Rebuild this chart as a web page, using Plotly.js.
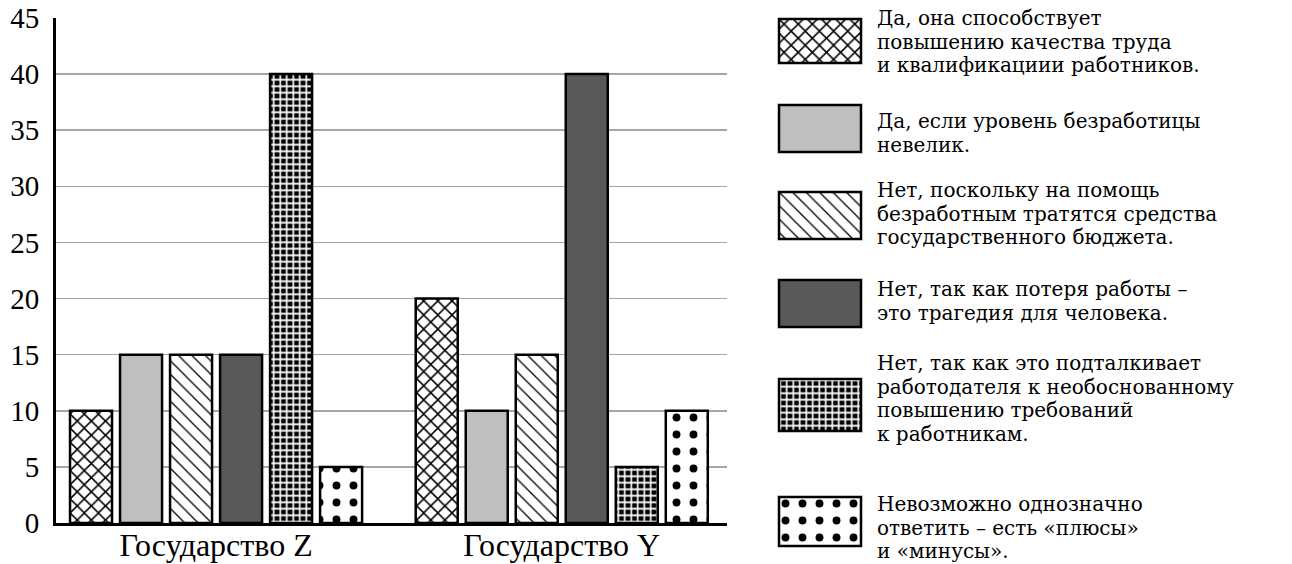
<!DOCTYPE html>
<html>
<head>
<meta charset="utf-8">
<script src="https://cdn.plot.ly/plotly-3.0.1.min.js"></script>
</head>
<body style="margin:0">
<div id="chart" style="width:1292px;height:564px"></div>
<script>
// ---- data ----
const categories = ['Государство Z', 'Государство Y'];
const stateZ = [10, 15, 15, 15, 40, 5];
const stateY = [20, 10, 15, 40, 5, 10];
const yTickValues = [0, 5, 10, 15, 20, 25, 30, 35, 40, 45];
const answerLines = [
  ['Да, она способствует', 'повышению качества труда', 'и квалификациии работников.'],
  ['Да, если уровень безработицы', 'невелик.'],
  ['Нет, поскольку на помощь', 'безработным тратятся средства', 'государственного бюджета.'],
  ['Нет, так как потеря работы –', 'это трагедия для человека.'],
  ['Нет, так как это подталкивает', 'работодателя к необоснованному', 'повышению требований', 'к работникам.'],
  ['Невозможно однозначно', 'ответить – есть «плюсы»', 'и «минусы».']
];

// ---- styles ----
const axisFamily = 'Liberation Serif';
const legendFamily = 'DejaVu Serif';
const W = 1292, H = 564;
const seriesStyles = [
  {color: '#ffffff', pattern: {shape: 'x', bgcolor: '#ffffff', fgcolor: '#000000', size: 10, solidity: 0.28, fillmode: 'replace'}},
  {color: '#bfbfbf'},
  {color: '#ffffff', pattern: {shape: '\\', bgcolor: '#ffffff', fgcolor: '#000000', size: 9.5, solidity: 0.14, fillmode: 'replace'}},
  {color: '#595959'},
  {color: '#000000', pattern: {shape: '+', bgcolor: '#000000', fgcolor: '#ffffff', size: 6.5, solidity: 0.45, fillmode: 'replace'}},
  {color: '#ffffff', pattern: {shape: '.', bgcolor: '#ffffff', fgcolor: '#000000', size: 17, solidity: 0.17, fillmode: 'replace'}}
];

// legend layout (pixels)
const swatchX = [779, 861];
const swatchY = [[19, 63], [105, 152], [192, 239], [280, 327], [379, 431], [497, 546]];
const textX = 877;
const firstBaseline = [25, 128, 197, 296, 370, 511];
const lineStep = 23.6;
const legendFontSize = 20;
const legendAscent = 0.928, legendDescent = 0.236;

const traces = [];
seriesStyles.forEach((st, i) => {
  const marker = {color: st.color, line: {color: '#000000', width: 2.5}};
  if (st.pattern) marker.pattern = st.pattern;
  traces.push({
    type: 'bar',
    x: categories,
    y: [stateZ[i], stateY[i]],
    marker: marker,
    name: answerLines[i].join(' '),
    hoverinfo: 'skip',
    showlegend: false
  });
});

const layout = {
  width: W, height: H,
  margin: {l: 0, r: 0, t: 0, b: 0},
  paper_bgcolor: '#ffffff',
  plot_bgcolor: '#ffffff',
  showlegend: false,
  hovermode: false,
  barmode: 'group',
  bargap: 0.132,
  bargroupgap: 0.16,
  font: {family: axisFamily, color: '#000000'},
  xaxis: {
    domain: [56 / W, 727 / W],
    type: 'category',
    range: [-0.463, 1.478],
    showline: true, linecolor: '#000000', linewidth: 3,
    showgrid: false, zeroline: false,
    ticks: '',
    tickfont: {family: axisFamily, size: 32, color: '#000000'},
    ticklabelstandoff: -8,
    fixedrange: true
  },
  yaxis: {
    domain: [(H - 523) / H, (H - 18) / H],
    range: [0, 45],
    tickvals: yTickValues,
    ticktext: yTickValues.map(String),
    showline: true, linecolor: '#000000', linewidth: 3,
    showgrid: true, gridcolor: '#a6a6a6', gridwidth: 1.5,
    zeroline: false,
    ticks: '',
    tickfont: {family: axisFamily, size: 29, color: '#000000'},
    ticklabelstandoff: 8,
    fixedrange: true
  },
  annotations: []
};

// legend swatches: each drawn as a bar in its own small subplot, text as one annotation per line
seriesStyles.forEach((st, i) => {
  const n = i + 2;
  const pad = 2;
  const [top, bottom] = swatchY[i];
  const wpx = swatchX[1] - swatchX[0];
  const hpx = bottom - top;
  layout['xaxis' + n] = {
    domain: [(swatchX[0] - pad) / W, (swatchX[1] + pad) / W],
    range: [-pad / wpx, 1 + pad / wpx],
    visible: false, fixedrange: true, anchor: 'y' + n
  };
  layout['yaxis' + n] = {
    domain: [(H - bottom - pad) / H, (H - top + pad) / H],
    range: [-0.5 - pad / hpx, 0.5 + pad / hpx],
    visible: false, fixedrange: true, anchor: 'x' + n
  };
  const marker = {color: st.color, line: {color: '#000000', width: 2.5}};
  if (st.pattern) marker.pattern = st.pattern;
  traces.push({
    type: 'bar', orientation: 'h',
    x: [1], y: [0], width: [1], base: [0],
    xaxis: 'x' + n, yaxis: 'y' + n,
    marker: marker, hoverinfo: 'skip', showlegend: false
  });
  answerLines[i].forEach((line, j) => {
    const baseline = firstBaseline[i] + j * lineStep;
    const mid = baseline - (legendAscent - legendDescent) / 2 * legendFontSize;
    layout.annotations.push({
      xref: 'paper', yref: 'paper',
      x: textX / W, y: (H - mid) / H,
      xanchor: 'left', yanchor: 'middle',
      text: line, showarrow: false,
      borderpad: 0, borderwidth: 0,
      font: {family: legendFamily, size: legendFontSize, color: '#000000'}
    });
  });
});

Plotly.newPlot('chart', traces, layout, {displayModeBar: false, staticPlot: true});
</script>
</body>
</html>
